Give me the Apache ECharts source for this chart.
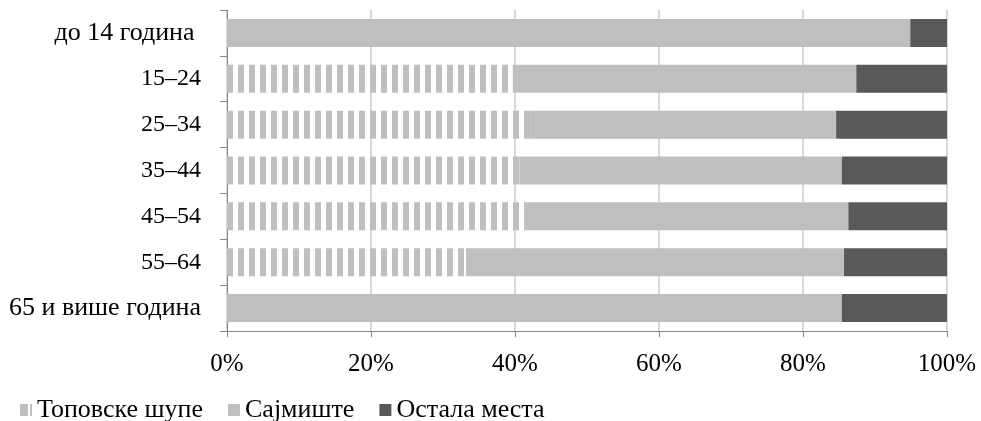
<!DOCTYPE html>
<html>
<head>
<meta charset="utf-8">
<script src="https://cdn.jsdelivr.net/npm/echarts@6/dist/echarts.min.js"></script>
<style>html,body{margin:0;padding:0;background:#fff;}#c{width:981px;height:421px;}</style>
</head>
<body>
<div id="c"></div>
<script>
const categories = ['до 14 година ', '15–24', '25–34', '35–44', '45–54', '55–64', '65 и више година'];
const seriesNames = ['Топовске шупе', 'Сајмиште', 'Остала места'];
const topovske = [0, 39.7, 42.1, 40.6, 41.5, 33.2, 0];
const sajmiste = [94.9, 47.7, 42.5, 44.8, 44.8, 52.5, 85.4];
const ostala = [5.1, 12.6, 15.4, 14.6, 13.7, 14.3, 14.6];
const xTicks = [0, 20, 40, 60, 80, 100];

const LIGHT = '#bfbfbf', DARK = '#595959', AXIS = '#868686', GRID = '#d9d9d9';
const FONT = '"Liberation Serif", "Times New Roman", serif';

// stripe pattern
const pc = document.createElement('canvas');
pc.width = 11; pc.height = 4;
const pctx = pc.getContext('2d');
pctx.fillStyle = '#ffffff'; pctx.fillRect(0, 0, 11, 4);
pctx.fillStyle = LIGHT;
pctx.fillRect(7, 0, 4, 4);
pctx.fillRect(0, 0, 2, 4);

// legend icon for striped series
const ic = document.createElement('canvas');
ic.width = 12; ic.height = 12;
const ictx = ic.getContext('2d');
ictx.fillStyle = '#ffffff'; ictx.fillRect(0, 0, 12, 12);
ictx.fillStyle = LIGHT;
ictx.fillRect(0, 0, 8, 12);
ictx.fillRect(10, 0, 2, 12);

const isCyr = s => /[\u0400-\u04FF]/.test(s);
const yData = categories.map(c => isCyr(c) ? {value: c, textStyle: {fontSize: 26}} : c);

const chart = echarts.init(document.getElementById('c'), null, {renderer: 'canvas'});
chart.setOption({
  animation: false,
  backgroundColor: '#ffffff',
  grid: {left: 227, right: 34, top: 10, bottom: 90, containLabel: false, outerBoundsMode: 'none'},
  legend: {
    left: 15, top: 392, itemWidth: 12, itemHeight: 12, itemGap: 25,
    textStyle: {fontFamily: FONT, fontSize: 26, color: '#000'},
    data: [
      {name: seriesNames[0], icon: 'image://' + ic.toDataURL(), textStyle: {width: 169}},
      {name: seriesNames[1], icon: 'rect', textStyle: {width: 110}},
      {name: seriesNames[2], icon: 'rect'}
    ]
  },
  xAxis: {
    type: 'value', min: xTicks[0], max: xTicks[xTicks.length - 1], interval: 20,
    axisLine: {show: true, lineStyle: {color: AXIS, width: 1}},
    axisTick: {show: true, length: 6, lineStyle: {color: AXIS}},
    splitLine: {show: true, lineStyle: {color: GRID, width: 2}},
    axisLabel: {margin: 21, formatter: '{value}%', fontFamily: FONT, fontSize: 25, color: '#000'}
  },
  yAxis: {
    type: 'category', data: yData, inverse: true,
    axisLine: {show: true, lineStyle: {color: AXIS, width: 1}},
    axisTick: {show: true, length: 7, lineStyle: {color: AXIS}},
    axisLabel: {margin: 26, fontFamily: FONT, fontSize: 24, color: '#000'}
  },
  series: [
    {name: seriesNames[0], type: 'bar', stack: 'a', barCategoryGap: '39%', data: topovske,
     itemStyle: {color: {image: pc, repeat: 'repeat'}}},
    {name: seriesNames[1], type: 'bar', stack: 'a', barCategoryGap: '39%', data: sajmiste,
     itemStyle: {color: LIGHT}},
    {name: seriesNames[2], type: 'bar', stack: 'a', barCategoryGap: '39%', data: ostala,
     itemStyle: {color: DARK}}
  ]
});
</script>
</body>
</html>
